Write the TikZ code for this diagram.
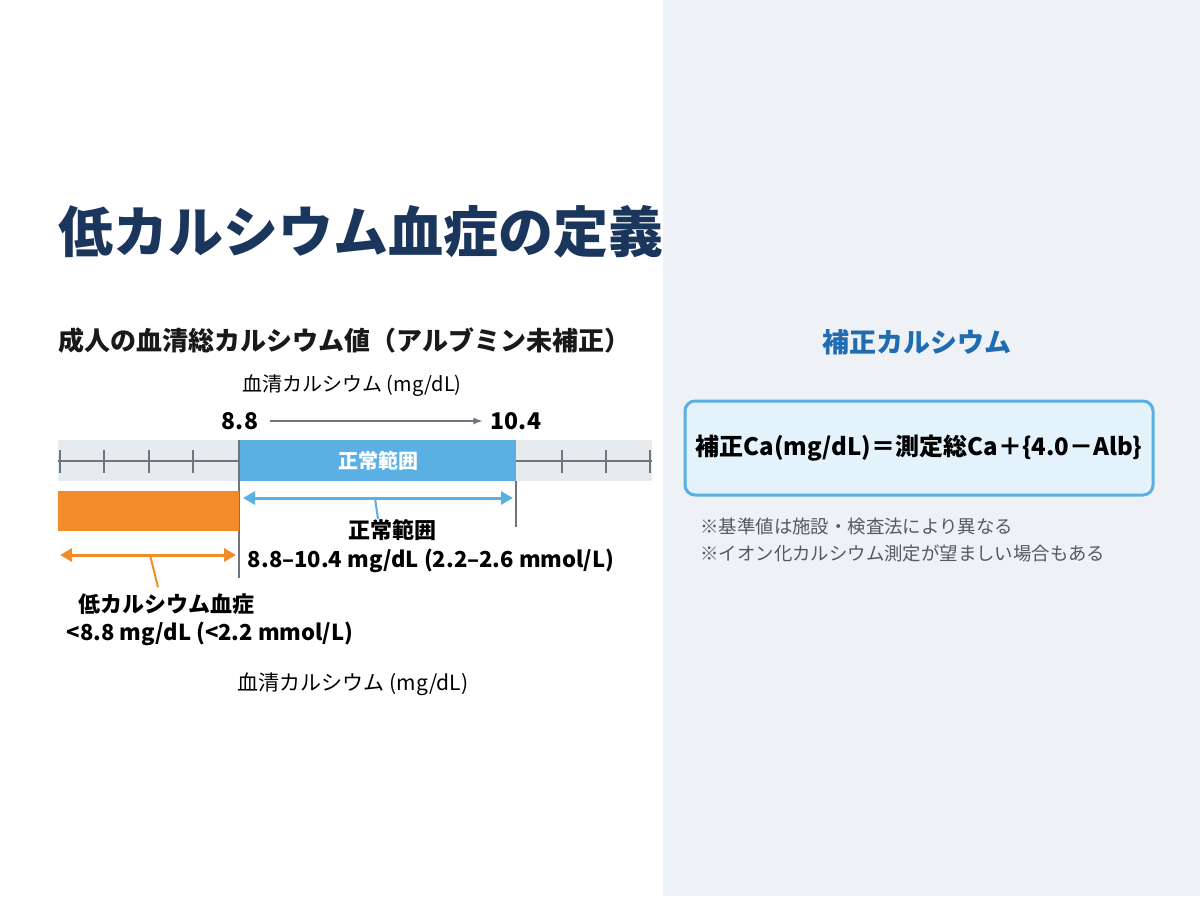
\documentclass[tikz,border=0pt]{standalone}
\usepackage{fontspec}
\setmainfont{Noto Sans CJK JP}
\usetikzlibrary{arrows.meta}
\definecolor{navy}{HTML}{1B365D}
\definecolor{panel}{HTML}{EEF2F6}
\definecolor{band}{HTML}{E8EBEE}
\definecolor{okblue}{HTML}{5AB0E2}
\definecolor{lowor}{HTML}{F28C28}
\definecolor{axisgr}{HTML}{6E757D}
\definecolor{headblue}{HTML}{1F6DB0}
\definecolor{boxfill}{HTML}{E4F2FB}
\definecolor{notegr}{HTML}{555A60}

\begin{document}
\begin{tikzpicture}[x=0.5pt,y=-0.5pt]
    \tikzset{
        txt/.style={inner sep=0pt, font=\fontsize{10}{12}\selectfont},
        bold/.style={txt, font=\bfseries\fontsize{11}{13}\selectfont},
        tick/.style={axisgr, line width=0.7pt},
        dbl/.style={{Triangle[length=6pt,width=6.5pt]}-{Triangle[length=6pt,width=6.5pt]}, line width=1.5pt}
    }
    \useasboundingbox (0,0) rectangle (1200,896);
    \fill[white] (0,0) rectangle (663,896);
    \fill[panel] (663,0) rectangle (1200,896);

    \node[txt, anchor=west, navy, font=\bfseries\fontsize{27.5}{30}\selectfont] (title) at (58,232) {低カルシウム血症の定義};
    \node[txt, anchor=west, black!90, font=\bfseries\fontsize{13}{15}\selectfont] (sub) at (58,341) {成人の血清総カルシウム値（アルブミン未補正）};

    % scale
    \node[txt] (ax1) at (352,386) {血清カルシウム (mg/dL)};
    \node[bold, font=\bfseries\fontsize{11.5}{13}\selectfont] (v88) at (240,421) {8.8};
    \node[bold, font=\bfseries\fontsize{11.5}{13}\selectfont] (v104) at (516,421) {10.4};
    \draw[-latex, axisgr, line width=0.6pt] ([xshift=6pt]v88.east) -- ([xshift=-4pt]v104.west);

    \fill[band] (58,440) rectangle (652,481);
    \draw[tick] (58,461) -- (239,461);
    \draw[tick] (516,461) -- (652,461);
    \foreach \x in {60,104,149,193,562,606,650}
        \draw[tick] (\x,450) -- (\x,473);
    \fill[okblue] (239,440) rectangle (516,481);
    \node[bold, white, font=\bfseries\fontsize{10}{12}\selectfont] (norm) at (378,461) {正常範囲};
    \draw[tick] (239,440) -- (239,578);
    \draw[tick] (516,481) -- (516,527);

    \fill[lowor] (58,491) rectangle (239,531);

    % normal range arrow
    \coordinate (na) at (243,498);
    \coordinate (nb) at (513,498);
    \coordinate (nm) at (375,498);
    \draw[dbl, okblue] (na) -- (nb);
    \node[bold] (nlab) at (392,530) {正常範囲};
    \node[bold] (nval) at (431,561) {8.8–10.4 mg/dL (2.2–2.6 mmol/L)};
    \draw[okblue, line width=1pt] (nm) -- ([xshift=-7pt]nlab.north);

    % low arrow
    \coordinate (la) at (60,555);
    \coordinate (lb) at (236,555);
    \coordinate (lm) at (150,555);
    \draw[dbl, lowor] (la) -- (lb);
    \node[bold] (llab) at (166,604) {低カルシウム血症};
    \node[bold] (lval) at (210,634) {<8.8 mg/dL (<2.2 mmol/L)};
    \draw[lowor, line width=1pt] (lm) -- ([xshift=-4pt, yshift=3pt]llab.north);

    \node[txt, font=\fontsize{10.5}{12}\selectfont] (ax2) at (353,684) {血清カルシウム (mg/dL)};

    % right panel
    \node[txt, headblue, font=\bfseries\fontsize{13.5}{15}\selectfont] (corr) at (917,342) {補正カルシウム};
    \node[draw=okblue, fill=boxfill, line width=1.5pt, rounded corners=5pt,
          minimum width=234pt, minimum height=47pt, inner sep=0pt,
          font=\bfseries\fontsize{12}{14}\selectfont] (form) at (919,448)
          {補正Ca(mg/dL)＝測定総Ca＋\{4.0－Alb\}};
    \node[txt, anchor=west, notegr, font=\fontsize{9.2}{11}\selectfont] (n1) at (700,526) {※基準値は施設・検査法により異なる};
    \node[txt, anchor=west, notegr, font=\fontsize{9.2}{11}\selectfont] (n2) at (700,553) {※イオン化カルシウム測定が望ましい場合もある};
\end{tikzpicture}
\end{document}
